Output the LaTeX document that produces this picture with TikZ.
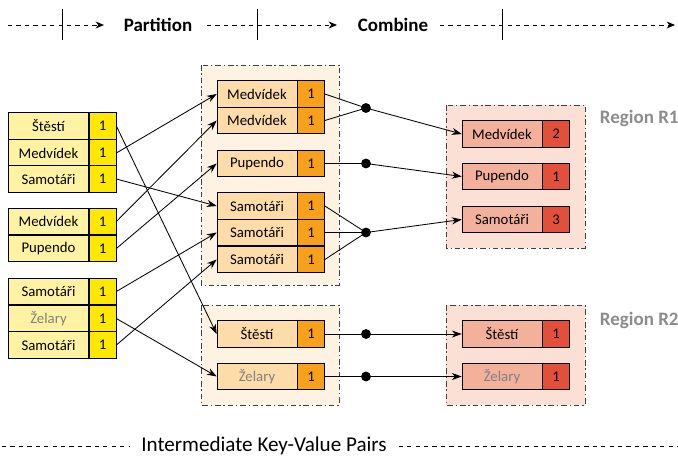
\documentclass[tikz,border=0pt]{standalone}
\usepackage{fontspec}
\setmainfont{Carlito}
\usepackage{tikz}
\usetikzlibrary{arrows.meta, positioning, calc}

\definecolor{inkey}{HTML}{FFF3A3}
\definecolor{inval}{HTML}{FFE800}
\definecolor{midkey}{HTML}{FDDCAA}
\definecolor{midval}{HTML}{F7A11B}
\definecolor{midbg}{HTML}{FEF2E2}
\definecolor{outkey}{HTML}{F3B09B}
\definecolor{outval}{HTML}{E3503A}
\definecolor{outbg}{HTML}{FAE0D5}
\definecolor{regiongray}{HTML}{8C8C8C}

\tikzset{
    pairkey/.style={draw, minimum width=2cm, minimum height=0.6625cm, inner sep=0pt, font=\fontsize{10.5}{12}\selectfont},
    pairval/.style={draw, minimum width=0.675cm, minimum height=0.6625cm, inner sep=0pt, font=\fontsize{10.5}{12}\selectfont},
    region/.style={draw=black!75, dash pattern=on 4pt off 2pt on 1pt off 2pt, line width=0.6pt},
    link/.style={line width=0.6pt},
    arr/.style={line width=0.6pt, -{Stealth[length=7pt, width=5pt]}},
    joint/.style={circle, fill=black, inner sep=0pt, minimum size=7pt},
    timeline/.style={dashed, line width=0.6pt},
    steplabel/.style={font=\fontsize{13.5}{15}\selectfont\bfseries},
    regionlabel/.style={font=\fontsize{13.5}{15}\selectfont\bfseries, text=regiongray, anchor=west},
}

\begin{document}
\begin{tikzpicture}[x=0.025cm, y=-0.025cm]
    \useasboundingbox (0,0) rectangle (678,455);

    % timeline on top
    \node[steplabel] (partition) at (158,25) {Partition};
    \node[steplabel] (combine) at (393,25) {Combine};
    \coordinate (t0) at (8,25);
    \coordinate (t0e) at (104,25);
    \coordinate (t1) at (207,25);
    \coordinate (t1e) at (337,25);
    \coordinate (t2) at (440,25);
    \coordinate (t3) at (675,25);
    \draw[timeline, -{Stealth[length=6pt, width=5pt]}] (t0) -- (t0e);
    \draw[timeline, -{Stealth[length=6pt, width=5pt]}] (t1) -- (t1e);
    \draw[timeline, -{Stealth[length=6pt, width=5pt]}] (t2) -- (t3);
    \foreach \x in {62,257,502}
        \draw[line width=0.6pt] (\x,9) -- (\x,40);

    % region frames
    \draw[region, fill=midbg] (201,65) rectangle (339,285);
    \draw[region, fill=midbg] (201,305) rectangle (339,405);
    \draw[region, fill=outbg] (446,105) rectangle (585,248);
    \draw[region, fill=outbg] (446,305) rectangle (585,405);
    \node[regionlabel] (labr1) at (595,118) {Region R1};
    \node[regionlabel] (labr2) at (595,320) {Region R2};

    % input pairs
    \foreach \n/\y/\txt in {1/126/Štěstí, 2/153/Medvídek, 3/179/Samotáři, 4/221.5/Medvídek,
                            5/248.5/Pupendo, 6/291.5/Samotáři, 8/345/Samotáři} {
        \node[pairkey, fill=inkey] (in\n) at (48.5,\y) {\txt};
        \node[pairval, fill=inval, right=0pt of in\n] (inv\n) {1};
    }
    \node[pairkey, fill=inkey, text=black!50] (in7) at (48.5,318.5) {Želary};
    \node[pairval, fill=inval, right=0pt of in7] (inv7) {1};

    % intermediate pairs
    \foreach \n/\y/\txt in {1/94/Medvídek, 2/120.5/Medvídek, 3/163.5/Pupendo, 4/206/Samotáři,
                            5/232.5/Samotáři, 6/259.5/Samotáři, 7/334/Štěstí} {
        \node[pairkey, fill=midkey] (mid\n) at (257,\y) {\txt};
        \node[pairval, fill=midval, right=0pt of mid\n] (midv\n) {1};
    }
    \node[pairkey, fill=midkey, text=black!50] (mid8) at (257,376.5) {Želary};
    \node[pairval, fill=midval, right=0pt of mid8] (midv8) {1};

    % combined pairs
    \foreach \n/\y/\txt/\v in {1/134/Medvídek/2, 2/176.5/Pupendo/1, 3/219.5/Samotáři/3, 4/334/Štěstí/1} {
        \node[pairkey, fill=outkey] (out\n) at (502,\y) {\txt};
        \node[pairval, fill=outval, right=0pt of out\n] (outv\n) {\v};
    }
    \node[pairkey, fill=outkey, text=black!50] (out5) at (502,376.5) {Želary};
    \node[pairval, fill=outval, right=0pt of out5] (outv5) {1};

    % partition arrows
    \foreach \a/\b in {1/7, 2/1, 3/4, 4/2, 5/3, 6/5, 7/8, 8/6}
        \draw[arr] (inv\a.east) -- (mid\b.west);

    % combine joints
    \node[joint] (j1) at (366,108) {};
    \node[joint] (j2) at (366,163.5) {};
    \node[joint] (j3) at (366,232.5) {};
    \node[joint] (j4) at (366,334) {};
    \node[joint] (j5) at (366,376.5) {};
    \foreach \a/\b in {1/1, 2/1, 3/2, 4/3, 5/3, 6/3, 7/4, 8/5}
        \draw[link] (midv\a.east) -- (j\b.center);
    \foreach \b in {1,...,5}
        \draw[arr] (j\b.center) -- (out\b.west);

    % bottom caption
    \node[font=\fontsize{15}{17}\selectfont] (caption) at (264,446) {Intermediate Key-Value Pairs};
    \coordinate (b0) at (2,446);
    \coordinate (b1) at (678,446);
    \draw[timeline] (b0) -- ([xshift=-5pt]caption.west);
    \draw[timeline] ([xshift=5pt]caption.east) -- (b1);
\end{tikzpicture}
\end{document}
